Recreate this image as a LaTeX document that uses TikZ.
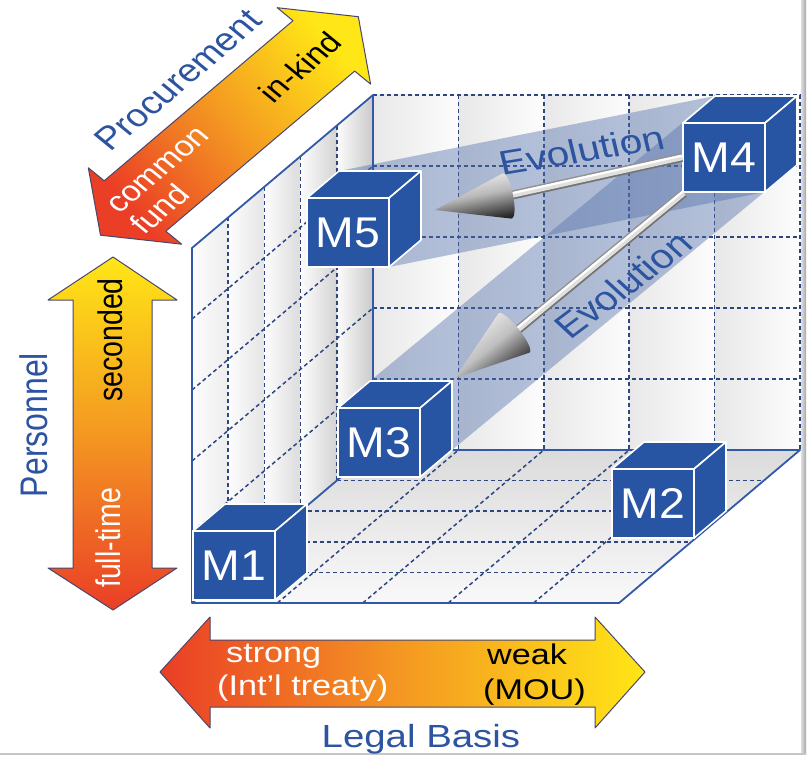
\documentclass[tikz,border=0pt]{standalone}
\usepackage{fontspec}
\setmainfont{Liberation Sans}
\usepackage{graphicx}
\usetikzlibrary{calc}
\definecolor{cubeblue}{RGB}{40,84,164}
\definecolor{textblue}{RGB}{44,84,160}
\definecolor{framebl}{RGB}{50,88,168}
\definecolor{gridbl}{RGB}{46,70,128}
\definecolor{bandbl}{RGB}{80,110,170}
\definecolor{axred}{RGB}{234,62,38}
\definecolor{axorange}{RGB}{244,152,34}
\definecolor{axyellow}{RGB}{255,230,22}
\definecolor{axedge}{RGB}{72,72,110}
\newcommand{\fsz}[2]{\fontsize{#1}{#2}\selectfont}
\newcommand{\mcube}[4]{%
  \node[cubeface, anchor=south west] (#1) at (#2,#3) {\scalebox{1.08}[1]{#4}};
  \filldraw[cubeside] (#1.north west) -- ++(32,-27) -- ++(82,0) -- (#1.north east) -- cycle;
  \filldraw[cubeside] (#1.north east) -- ++(32,-27) -- ++(0,69) -- (#1.south east) -- cycle;
}
\begin{document}
\begin{tikzpicture}[x=1pt,y=-1pt,
  gridline/.style={draw=gridbl, line width=1.5pt, dash pattern=on 4pt off 3pt},
  frameline/.style={draw=framebl, line width=1.8pt, line join=round},
  band/.style={fill=bandbl, fill opacity=0.42},
  cubeface/.style={draw=white, line width=1.6pt, fill=cubeblue, minimum width=82pt, minimum height=69pt, inner sep=0pt, outer sep=0pt, text=white, font=\fsz{43}{43}},
  cubeside/.style={draw=white, line width=1.6pt, fill=cubeblue, line join=round},
  axisarrow/.style={draw=axedge, line width=1pt, line join=round},
  axtitle/.style={text=textblue, font=\fsz{32}{32}, inner sep=0pt},
  inlbl/.style={font=\fsz{28.5}{30}, inner sep=0pt},
  evo/.style={text=textblue, font=\fsz{34}{34}, inner sep=0pt},
  rodouter/.style={draw=gray!85, line width=9pt},
  rodinner/.style={draw=gray!25, line width=5.5pt},
  rodhi/.style={draw=white, line width=2.2pt},
  rodlo/.style={draw=black!55, line width=1.4pt}
]
\useasboundingbox (0,0) rectangle (807,757);
\fill[white] (0,0) rectangle (807,757);
% drop shadow of the frame
\shade[left color=gray!25, right color=gray!70] (801,0) rectangle (806,754);
\fill[gray!45] (0,752.5) rectangle (806,755);

% box corners
\coordinate (FBL) at (192,603);
\coordinate (FBR) at (619,603);
\coordinate (BBL) at (373,450);
\coordinate (BBR) at (800,450);
\coordinate (BTL) at (373,95);
\coordinate (BTR) at (800,95);
\coordinate (FTL) at (192,248);

% back wall
\foreach \k in {0,...,4} {
  \shade[left color=gray!18, right color=gray!2] ({373+85.4*\k},95) rectangle ({373+85.4*(\k+1)},450);
}
% left wall
\foreach \k in {0,...,4} {
  \pgfmathtruncatemacro\gl{14+7*\k}
  \shade[left color=gray!2, right color=gray!\gl]
    ({192+36.2*\k},{248-30.6*\k}) -- ({192+36.2*(\k+1)},{248-30.6*(\k+1)}) --
    ({192+36.2*(\k+1)},{603-30.6*(\k+1)}) -- ({192+36.2*\k},{603-30.6*\k}) -- cycle;
}
% floor
\shade[top color=gray!28, bottom color=gray!5] (FBL) -- (FBR) -- (BBR) -- (BBL) -- cycle;

% grids
\foreach \k in {1,...,4} {
  \draw[gridline] ({373+85.4*\k},95) -- ({373+85.4*\k},450);
  \draw[gridline] (373,{95+71*\k}) -- (800,{95+71*\k});
  \draw[gridline] ({192+36.2*\k},{248-30.6*\k}) -- ({192+36.2*\k},{603-30.6*\k});
  \draw[gridline] (192,{248+71*\k}) -- (373,{95+71*\k});
  \draw[gridline] ({192+36.2*\k},{603-30.6*\k}) -- ({619+36.2*\k},{603-30.6*\k});
  \draw[gridline] ({192+85.4*\k},603) -- ({373+85.4*\k},450);
}
\draw[gridline] (BTL) -- (BTR) -- (BBR);

% evolution bands
\fill[band] (339,171) -- (715,96) -- (765,192) -- (389,267) -- cycle;
\fill[band] (370,381) -- (715,96) -- (797,165) -- (452,450) -- cycle;

% solid frame
\draw[frameline] (FBL) -- (FTL) -- (BTL) -- (BBL) -- (BBR) -- (FBR) -- (FBL) -- (BBL);

% evolution labels
\begin{scope}[xscale=1.2, every node/.append style={transform shape}]
  \node[evo, rotate=11.2] (tEvo1) at (485,150) {Evolution};
  \node[evo, rotate=42.1] (tEvo2) at (519.2,285) {Evolution};
\end{scope}

% cubes
\mcube{M4}{683}{192}{M4}
\mcube{M5}{307}{267}{M5}
\mcube{M2}{612}{538}{M2}
\mcube{M3}{338}{477}{M3}
\mcube{M1}{193}{600}{M1}

% arrow M4 -> M5
\coordinate (A1s) at ($(M4.west)+(-1,0)$);
\coordinate (A1b) at (508,196);
\coordinate (A1t) at (435,210);
\coordinate (C1a) at (502.6,173.4);
\coordinate (C1b) at (511.4,218.6);
\draw[rodouter] (A1s) -- (A1b);
\draw[rodinner] (A1s) -- (A1b);
\draw[rodlo] ($(A1s)+(0.8,3.6)$) -- ($(A1b)+(0.8,3.6)$);
\draw[rodhi] ($(A1s)+(-0.4,-1.8)$) -- ($(A1b)+(-0.4,-1.8)$);
\shade[top color=gray!5, bottom color=black!85, middle color=gray!55, shading angle=11]
  (A1t) -- (C1a) .. controls ($(C1a)+(8,-1.5)$) and ($(C1b)+(8,-1.5)$) .. (C1b) -- cycle;

% arrow M4 -> M3
\coordinate (A2s) at ($(M4.south west)+(1,1)$);
\coordinate (A2b) at (514,333);
\coordinate (A2t) at ($(M3.north east)+(35,-30)$);
\coordinate (C2a) at (498.5,313.4);
\coordinate (C2b) at (529.5,352.6);
\draw[rodouter] (A2s) -- (A2b);
\draw[rodinner] (A2s) -- (A2b);
\draw[rodlo] ($(A2s)+(2.3,2.8)$) -- ($(A2b)+(2.3,2.8)$);
\draw[rodhi] ($(A2s)+(-1.2,-1.5)$) -- ($(A2b)+(-1.2,-1.5)$);
\shade[top color=gray!5, bottom color=black!90, middle color=gray!50, shading angle=38]
  (A2t) -- (C2a) .. controls ($(C2a)+(6.3,-5)$) and ($(C2b)+(6.3,-5)$) .. (C2b) -- cycle;

% axis arrows
\shadedraw[axisarrow, top color=axyellow, bottom color=axred, middle color=axorange, shading angle=-50]
  (100.5,235.2) -- (88.3,167.8) -- (104.2,180.8) -- (293.0,20.7) -- (277.2,7.7) --
  (358.3,16.7) -- (370.6,84.1) -- (354.7,71.1) -- (165.8,231.2) -- (181.7,244.2) -- cycle;
\shadedraw[axisarrow, top color=axyellow, bottom color=axred, middle color=axorange]
  (113,257) -- (177,300) -- (152,300) -- (152,568) -- (177,568) -- (113,610) --
  (48,568) -- (73,568) -- (73,300) -- (48,300) -- cycle;
\shadedraw[axisarrow, left color=axred, right color=axyellow, middle color=axorange]
  (160,672) -- (210,617) -- (210,640) -- (595,640) -- (595,617) -- (645,672) --
  (595,728) -- (595,707) -- (210,707) -- (210,728) -- cycle;

% axis labels
\begin{scope}[xscale=1.2, every node/.append style={transform shape}]
  \node[axtitle, rotate=45.5] (tProc) at (148.3,80) {Procurement};
  \node[inlbl, text=white, align=left, rotate=45.5] (tCommon) at (143,181) {common\\fund};
  \node[inlbl, text=black, rotate=45.5] (tKind) at (250,67) {in-kind};
  \node[axtitle, rotate=90] (tPers) at (27.9,425) {Personnel};
  \node[inlbl, text=black, rotate=90] (tSec) at (91.7,340) {seconded};
  \node[inlbl, text=white, rotate=90] (tFull) at (90,538) {full-time};
  \node[inlbl, text=white, anchor=base west] (tStrong) at (188.3,662) {strong};
  \node[inlbl, text=white, anchor=base west] (tTreaty) at (180.8,695) {(Int’l treaty)};
  \node[inlbl, text=black, anchor=base west] (tWeak) at (405.8,664) {weak};
  \node[inlbl, text=black, anchor=base west] (tMou) at (402.5,699) {(MOU)};
  \node[axtitle, anchor=base] (tLegal) at (350.8,747) {Legal Basis};
\end{scope}
\end{tikzpicture}
\end{document}
